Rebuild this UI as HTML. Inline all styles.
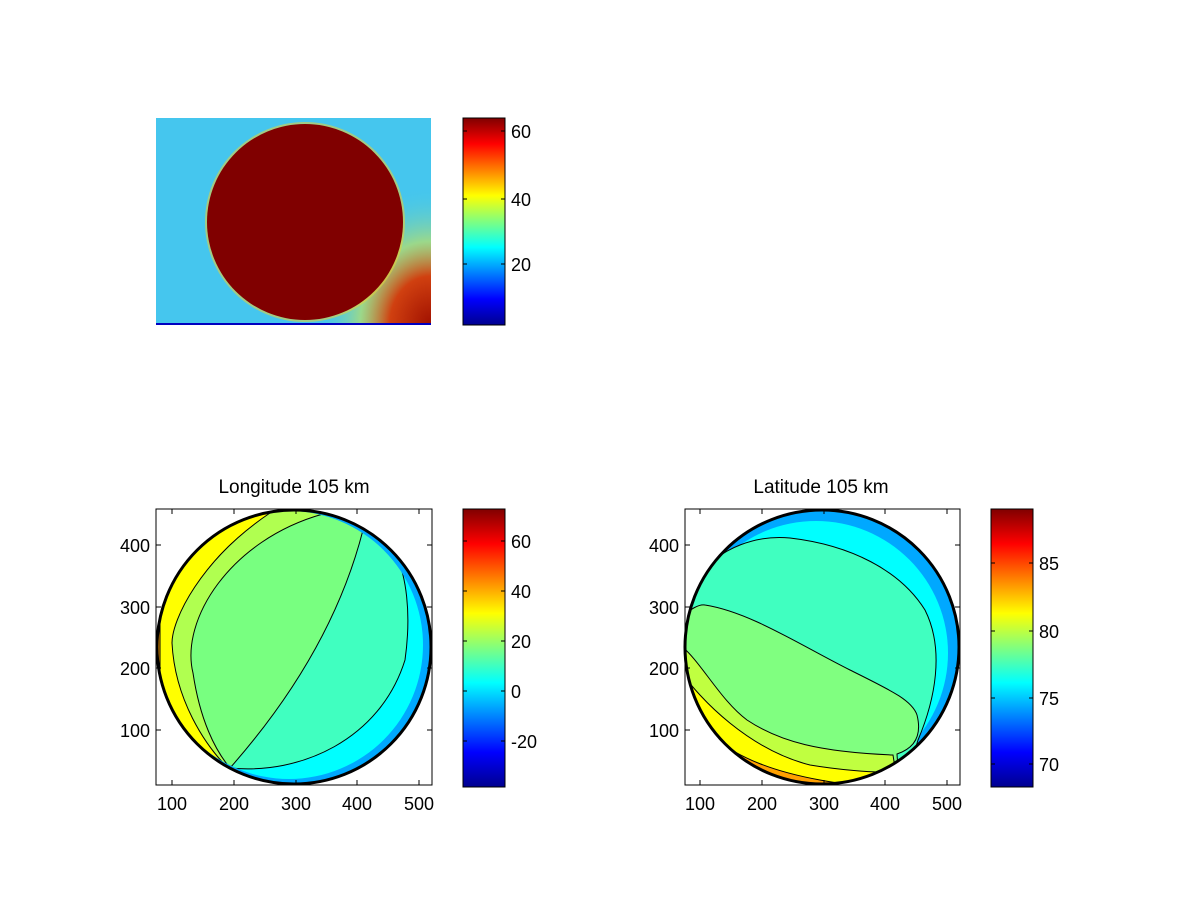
<!DOCTYPE html>
<html><head><meta charset="utf-8"><style>
html,body{margin:0;padding:0;background:#fff;}
svg{display:block;font-family:"Liberation Sans",sans-serif;}
</style></head><body>
<svg width="1200" height="900" viewBox="0 0 1200 900" xmlns="http://www.w3.org/2000/svg">
<defs>
<linearGradient id="jet" x1="0" y1="1" x2="0" y2="0">
<stop offset="0" stop-color="#00008f"/><stop offset="0.125" stop-color="#0000ff"/>
<stop offset="0.375" stop-color="#00ffff"/><stop offset="0.625" stop-color="#ffff00"/>
<stop offset="0.875" stop-color="#ff0000"/><stop offset="1" stop-color="#800000"/>
</linearGradient>
<radialGradient id="rr" cx="1" cy="1" r="0.9">
<stop offset="0" stop-color="#a01000"/><stop offset="0.35" stop-color="#d04010"/><stop offset="0.6" stop-color="#c0e060" stop-opacity="0.7"/><stop offset="1" stop-color="#40c8f0" stop-opacity="0"/>
</radialGradient>
<clipPath id="cL"><circle cx="294" cy="647" r="138"/></clipPath>
<clipPath id="cR"><circle cx="822" cy="647" r="138"/></clipPath>
<clipPath id="cT"><rect x="156" y="118" width="275" height="207"/></clipPath>
</defs>

<!-- top image -->
<g clip-path="url(#cT)">
<rect x="156" y="118" width="275" height="207" fill="#45c6ee"/>
<rect x="300" y="170" width="131" height="155" fill="url(#rr)"/>
<circle cx="305" cy="222" r="100" fill="#e0d040" opacity="0.6"/>
<circle cx="305" cy="222" r="98" fill="#800000"/>
<rect x="156" y="323" width="275" height="2" fill="#0000c0"/>
</g>
<rect x="463" y="118" width="42" height="207" fill="url(#jet)" stroke="#000" stroke-width="1"/>
<g stroke="#000" stroke-width="1">
<line x1="463" y1="131" x2="467" y2="131"/><line x1="501" y1="131" x2="505" y2="131"/>
<line x1="463" y1="199" x2="467" y2="199"/><line x1="501" y1="199" x2="505" y2="199"/>
<line x1="463" y1="264" x2="467" y2="264"/><line x1="501" y1="264" x2="505" y2="264"/>
</g>
<g font-size="18" fill="#000">
<text x="511" y="138">60</text><text x="511" y="206">40</text><text x="511" y="271">20</text>
</g>

<!-- bottom-left -->
<text x="294" y="493" font-size="19" text-anchor="middle">Longitude 105 km</text>
<rect x="156" y="509" width="276" height="276" fill="#fff" stroke="#000"/>
<g clip-path="url(#cL)">
<rect x="150" y="500" width="290" height="300" fill="#ffa000"/>
<path d="M160,500 L300,500 C225,530 176,600 178,643 C180,700 205,740 228,768 L160,800 Z" fill="#ffff00" stroke="#000"/>
<path d="M270,513 C200,560 172,620 172,643 C175,700 205,745 228,768 L260,800 L440,800 L440,500 L280,500 Z" fill="#b0ff50" stroke="#000"/>
<path d="M323,505 L323,514 C230,540 180,620 193,673 C200,720 215,750 230,768 L260,800 L440,800 L440,500 Z" fill="#78ff80" stroke="#000"/>
<path d="M230,768 C290,700 340,620 363,530 L363,500 L440,500 L440,800 L230,800 Z" fill="#40ffc0" stroke="#000"/>
<path d="M230,768 C300,775 380,740 405,660 C412,610 405,575 397,557 L400,500 L440,500 L440,800 L230,800 Z" fill="#00ffff" stroke="#000"/>
<path d="M150,500 H440 V800 H150 Z M155,645 A134,134 0 1 0 423,645 A134,134 0 1 0 155,645 Z" fill="#00a8ff" fill-rule="evenodd"/>
</g>
<circle cx="294" cy="647" r="137" fill="none" stroke="#000" stroke-width="3"/>
<g stroke="#000" stroke-width="1">
<line x1="172" y1="785" x2="172" y2="780"/><line x1="234" y1="785" x2="234" y2="780"/><line x1="296" y1="785" x2="296" y2="780"/><line x1="357" y1="785" x2="357" y2="780"/><line x1="419" y1="785" x2="419" y2="780"/>
<line x1="172" y1="509" x2="172" y2="514"/><line x1="234" y1="509" x2="234" y2="514"/><line x1="296" y1="509" x2="296" y2="514"/><line x1="357" y1="509" x2="357" y2="514"/><line x1="419" y1="509" x2="419" y2="514"/>
<line x1="156" y1="545" x2="161" y2="545"/><line x1="156" y1="607" x2="161" y2="607"/><line x1="156" y1="668" x2="161" y2="668"/><line x1="156" y1="730" x2="161" y2="730"/>
<line x1="432" y1="545" x2="427" y2="545"/><line x1="432" y1="607" x2="427" y2="607"/><line x1="432" y1="668" x2="427" y2="668"/><line x1="432" y1="730" x2="427" y2="730"/>
</g>
<g font-size="18" fill="#000" text-anchor="middle">
<text x="172" y="810">100</text><text x="234" y="810">200</text><text x="296" y="810">300</text><text x="357" y="810">400</text><text x="419" y="810">500</text>
</g>
<g font-size="18" fill="#000" text-anchor="end">
<text x="150" y="552">400</text><text x="150" y="614">300</text><text x="150" y="675">200</text><text x="150" y="737">100</text>
</g>
<rect x="463" y="509" width="42" height="278" fill="url(#jet)" stroke="#000"/>
<g stroke="#000">
<line x1="463" y1="541" x2="467" y2="541"/><line x1="501" y1="541" x2="505" y2="541"/>
<line x1="463" y1="591" x2="467" y2="591"/><line x1="501" y1="591" x2="505" y2="591"/>
<line x1="463" y1="641" x2="467" y2="641"/><line x1="501" y1="641" x2="505" y2="641"/>
<line x1="463" y1="691" x2="467" y2="691"/><line x1="501" y1="691" x2="505" y2="691"/>
<line x1="463" y1="741" x2="467" y2="741"/><line x1="501" y1="741" x2="505" y2="741"/>
</g>
<g font-size="18" fill="#000">
<text x="511" y="548">60</text><text x="511" y="598">40</text><text x="511" y="648">20</text><text x="511" y="698">0</text><text x="511" y="748">-20</text>
</g>

<!-- bottom-right -->
<text x="821" y="493" font-size="19" text-anchor="middle">Latitude 105 km</text>
<rect x="685" y="509" width="275" height="276" fill="#fff" stroke="#000"/>
<g clip-path="url(#cR)">
<rect x="680" y="500" width="290" height="300" fill="#00a8ff"/>
<circle cx="816" cy="653" r="132" fill="#00ffff"/>
<path d="M680,620 L695,580 C720,545 760,535 790,538 C850,545 900,570 925,610 C945,650 935,700 918,740 L900,800 L680,800 Z" fill="#40ffc0" stroke="#000"/>
<path d="M680,620 C690,608 700,604 705,605 C750,612 800,645 850,670 C890,690 912,700 917,715 C922,735 915,748 897,754 L900,800 L680,800 Z" fill="#80ff80" stroke="#000"/>
<path d="M680,645 C700,660 720,700 747,720 C780,742 820,752 893,755 L900,800 L680,800 Z" fill="#c0ff40" stroke="#000"/>
<path d="M680,670 C700,700 750,750 810,765 C840,770 870,772 880,772 L880,800 L680,800 Z" fill="#ffff00" stroke="#000"/>
<path d="M680,700 C720,760 780,780 900,790 L900,800 L680,800 Z" fill="#ffa000" stroke="#000"/>
</g>
<circle cx="822" cy="647" r="137" fill="none" stroke="#000" stroke-width="3"/>
<g stroke="#000" stroke-width="1">
<line x1="700" y1="785" x2="700" y2="780"/><line x1="762" y1="785" x2="762" y2="780"/><line x1="824" y1="785" x2="824" y2="780"/><line x1="885" y1="785" x2="885" y2="780"/><line x1="947" y1="785" x2="947" y2="780"/>
<line x1="700" y1="509" x2="700" y2="514"/><line x1="762" y1="509" x2="762" y2="514"/><line x1="824" y1="509" x2="824" y2="514"/><line x1="885" y1="509" x2="885" y2="514"/><line x1="947" y1="509" x2="947" y2="514"/>
<line x1="685" y1="545" x2="690" y2="545"/><line x1="685" y1="607" x2="690" y2="607"/><line x1="685" y1="668" x2="690" y2="668"/><line x1="685" y1="730" x2="690" y2="730"/>
<line x1="960" y1="545" x2="955" y2="545"/><line x1="960" y1="607" x2="955" y2="607"/><line x1="960" y1="668" x2="955" y2="668"/><line x1="960" y1="730" x2="955" y2="730"/>
</g>
<g font-size="18" fill="#000" text-anchor="middle">
<text x="700" y="810">100</text><text x="762" y="810">200</text><text x="824" y="810">300</text><text x="885" y="810">400</text><text x="947" y="810">500</text>
</g>
<g font-size="18" fill="#000" text-anchor="end">
<text x="679" y="552">400</text><text x="679" y="614">300</text><text x="679" y="675">200</text><text x="679" y="737">100</text>
</g>
<rect x="991" y="509" width="42" height="278" fill="url(#jet)" stroke="#000"/>
<g stroke="#000">
<line x1="991" y1="563" x2="995" y2="563"/><line x1="1029" y1="563" x2="1033" y2="563"/>
<line x1="991" y1="631" x2="995" y2="631"/><line x1="1029" y1="631" x2="1033" y2="631"/>
<line x1="991" y1="698" x2="995" y2="698"/><line x1="1029" y1="698" x2="1033" y2="698"/>
<line x1="991" y1="764" x2="995" y2="764"/><line x1="1029" y1="764" x2="1033" y2="764"/>
</g>
<g font-size="18" fill="#000">
<text x="1039" y="570">85</text><text x="1039" y="638">80</text><text x="1039" y="705">75</text><text x="1039" y="771">70</text>
</g>
</svg>
</body></html>
